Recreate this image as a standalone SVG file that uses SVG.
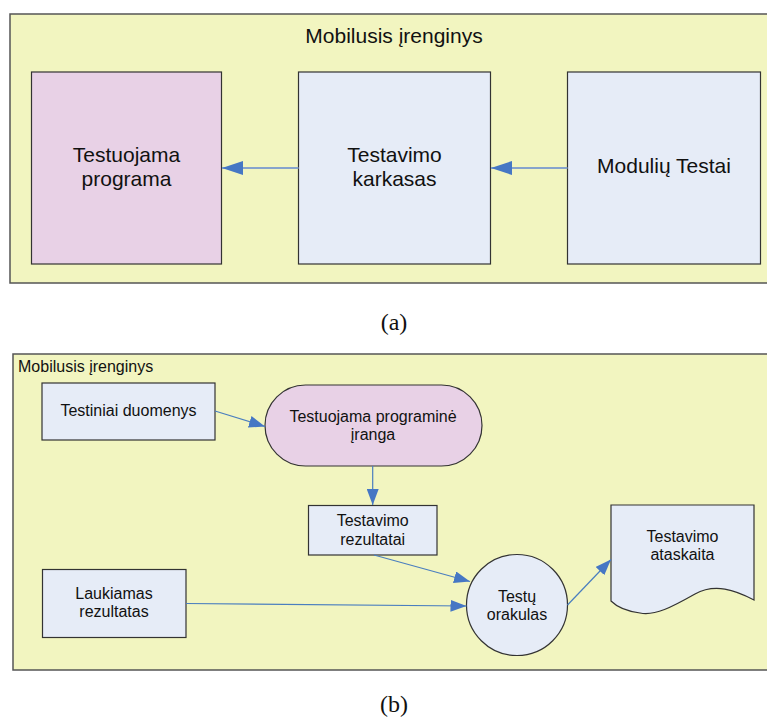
<svg xmlns="http://www.w3.org/2000/svg" width="767" height="720" viewBox="0 0 767 720">
  <style>
    .frame { fill: #f2f5c0; stroke: #555; stroke-width: 1.5; }
    .blue { fill: #e6ecf7; stroke: #333; stroke-width: 1.2; }
    .pink { fill: #e8d1e6; stroke: #333; stroke-width: 1.2; }
    .big { font-family: "Liberation Sans", Arial, sans-serif; font-size: 21px; fill: #111; text-anchor: middle; }
    .small { font-family: "Liberation Sans", Arial, sans-serif; font-size: 16px; fill: #111; text-anchor: middle; }
    .cap { font-family: "Liberation Serif", "Times New Roman", serif; font-size: 24px; fill: #111; text-anchor: middle; }
    .wide { stroke: #87a4cc; stroke-width: 2; fill: none; }
    .thin { stroke: #4a7ebf; stroke-width: 1.2; fill: none; }
  </style>
  <defs>
    <marker id="headBig" markerUnits="userSpaceOnUse" markerWidth="22" markerHeight="14" refX="21" refY="7" orient="auto">
      <path d="M0,0 L21,7 L0,14 Z" fill="#4677c4"/>
    </marker>
    <marker id="headSmall" markerUnits="userSpaceOnUse" markerWidth="17" markerHeight="12" refX="16" refY="6" orient="auto">
      <path d="M0,0 L16,6 L0,12 Z" fill="#4677c4"/>
    </marker>
  </defs>

  <rect width="767" height="720" fill="#fff"/>

  <!-- (a) component view -->
  <g id="deviceA">
    <rect class="frame" x="10" y="14" width="770" height="269"/>
    <text class="big" x="394" y="43">Mobilusis įrenginys</text>
  </g>
  <g id="programA">
    <rect class="pink" x="31.5" y="72" width="190" height="192"/>
    <text class="big" x="126.5" y="162">Testuojama</text>
    <text class="big" x="126.5" y="186">programa</text>
  </g>
  <g id="framework">
    <rect class="blue" x="298.5" y="72" width="192" height="192"/>
    <text class="big" x="394.5" y="162">Testavimo</text>
    <text class="big" x="394.5" y="186">karkasas</text>
  </g>
  <g id="unitTests">
    <rect class="blue" x="567.5" y="72" width="193" height="192"/>
    <text class="big" x="664" y="173">Modulių Testai</text>
  </g>
  <g id="connectorsA">
    <line class="wide" x1="298.5" y1="168" x2="222" y2="168" marker-end="url(#headBig)"/>
    <line class="wide" x1="567.5" y1="168" x2="491" y2="168" marker-end="url(#headBig)"/>
  </g>
  <text class="cap" x="394" y="330">(a)</text>

  <!-- (b) data-flow view -->
  <g id="deviceB">
    <rect class="frame" x="13" y="354" width="770" height="316"/>
    <text class="small" x="18" y="372" style="text-anchor:start">Mobilusis įrenginys</text>
  </g>
  <g id="testData">
    <rect class="blue" x="42" y="383" width="173" height="57"/>
    <text class="small" x="128.5" y="416">Testiniai duomenys</text>
  </g>
  <g id="software">
    <rect class="pink" x="265" y="385" width="217" height="81" rx="40.5" ry="40.5"/>
    <text class="small" x="373" y="422">Testuojama programinė</text>
    <text class="small" x="373" y="440">įranga</text>
  </g>
  <g id="testResults">
    <rect class="blue" x="308.5" y="505.5" width="128.5" height="49.5"/>
    <text class="small" x="372.7" y="526">Testavimo</text>
    <text class="small" x="372.7" y="544.5">rezultatai</text>
  </g>
  <g id="expected">
    <rect class="blue" x="42.5" y="569.5" width="143.5" height="68"/>
    <text class="small" x="114" y="598.5">Laukiamas</text>
    <text class="small" x="114" y="617">rezultatas</text>
  </g>
  <g id="oracle">
    <circle class="blue" cx="517" cy="605" r="50.5"/>
    <text class="small" x="517" y="602">Testų</text>
    <text class="small" x="517" y="620">orakulas</text>
  </g>
  <g id="report">
    <path class="blue" d="M611,505 L754,505 L754,600 C735,590 715,583 695,594 C672,607 655,616 640,613 C625,611 616,606 611,601 Z"/>
    <text class="small" x="682.5" y="542">Testavimo</text>
    <text class="small" x="682.5" y="560">ataskaita</text>
  </g>
  <g id="connectorsB">
    <line class="thin" x1="215" y1="411" x2="265" y2="426.5" marker-end="url(#headSmall)"/>
    <line class="thin" x1="372.7" y1="466" x2="372.7" y2="505" marker-end="url(#headSmall)"/>
    <line class="thin" x1="374" y1="555" x2="470" y2="581.5" marker-end="url(#headSmall)"/>
    <line class="thin" x1="186" y1="603.5" x2="466.5" y2="606" marker-end="url(#headSmall)"/>
    <line class="thin" x1="567.5" y1="605" x2="611" y2="559.5" marker-end="url(#headSmall)"/>
  </g>
  <text class="cap" x="394" y="712">(b)</text>
</svg>
